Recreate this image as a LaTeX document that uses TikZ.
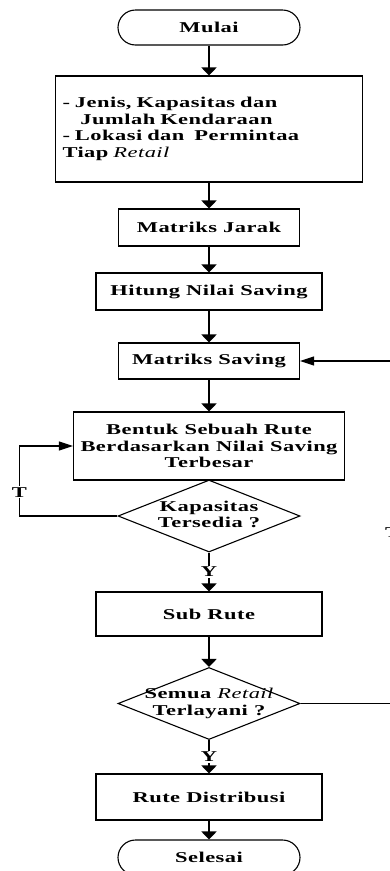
\documentclass[tikz,border=0pt]{standalone}
\usepackage{fontspec}
\setmainfont{Liberation Serif}[FakeStretch=1.5,LetterSpace=3]
\usetikzlibrary{shapes.geometric,arrows.meta}
\begin{document}
\begin{tikzpicture}[x=1pt,y=-1pt,
  font=\fontsize{15}{16.5}\selectfont\bfseries,
  proc/.style={draw,line width=1.1pt,inner sep=0pt,align=center},
  term/.style={draw,line width=1.1pt,rounded corners=17.5pt,minimum width=182pt,minimum height=35pt,inner sep=0pt},
  decide/.style={draw,diamond,line width=1.1pt,minimum width=182pt,minimum height=72pt,inner sep=0pt},
  arr/.style={line width=2pt,-{Triangle[width=15pt,length=8pt]}},
  back/.style={line width=1.1pt,-{Triangle[width=9pt,length=14pt]}},
  yt/.style={fill=white,inner sep=1pt}]
\useasboundingbox (0,0) rectangle (389,871);

% main column
\node[term] (mulai) at (209,27.5) {Mulai};
\node[proc,minimum width=307pt,minimum height=106pt,text width=293pt,align=left] (data) at (209,129)
  {- Jenis, Kapasitas dan\\\hspace*{18pt}Jumlah Kendaraan\\- Lokasi dan\ \ Permintaa\\Tiap {\mdseries\itshape Retail}};
\node[proc,minimum width=181pt,minimum height=37pt] (jarak) at (209,227.5) {Matriks Jarak};
\node[proc,minimum width=226pt,minimum height=37pt] (hitung) at (209,291.5) {Hitung Nilai Saving};
\node[proc,minimum width=181pt,minimum height=36pt] (msaving) at (209,361) {Matriks Saving};
\node[proc,minimum width=271pt,minimum height=68pt] (rute) at (209,446)
  {Bentuk Sebuah Rute\\Berdasarkan Nilai Saving\\Terbesar};
\node[decide] (kap) at (209,516)
  {\makebox[0pt]{\begin{tabular}{@{}c@{}}Kapasitas\\Tersedia ?\end{tabular}}};
\node[proc,minimum width=226pt,minimum height=44pt] (sub) at (209,614) {Sub Rute};
\node[decide] (semua) at (209,703.5)
  {\makebox[0pt]{\begin{tabular}{@{}c@{}}Semua {\mdseries\itshape Retail}\\Terlayani ?\end{tabular}}};
\node[proc,minimum width=226pt,minimum height=46pt] (distribusi) at (209,797) {Rute Distribusi};
\node[term] (selesai) at (209,857.5) {Selesai};

\draw[arr] (mulai) -- (data);
\draw[arr] (data) -- (jarak);
\draw[arr] (jarak) -- (hitung);
\draw[arr] (hitung) -- (msaving);
\draw[arr] (msaving) -- (rute);
\draw[arr] (kap) -- node[yt]{Y} (sub);
\draw[arr] (sub) -- (semua);
\draw[arr] (semua) -- node[yt]{Y} (distribusi);
\draw[arr] (distribusi) -- (selesai);

% loops back
\draw[back] (kap.west) -- ++(-98,0) |- node[yt,pos=.17]{T} (rute.west);
\draw[back] (semua.east) -- ++(92,0) |- node[yt,pos=.25]{T} (msaving.east);
\end{tikzpicture}
\end{document}
